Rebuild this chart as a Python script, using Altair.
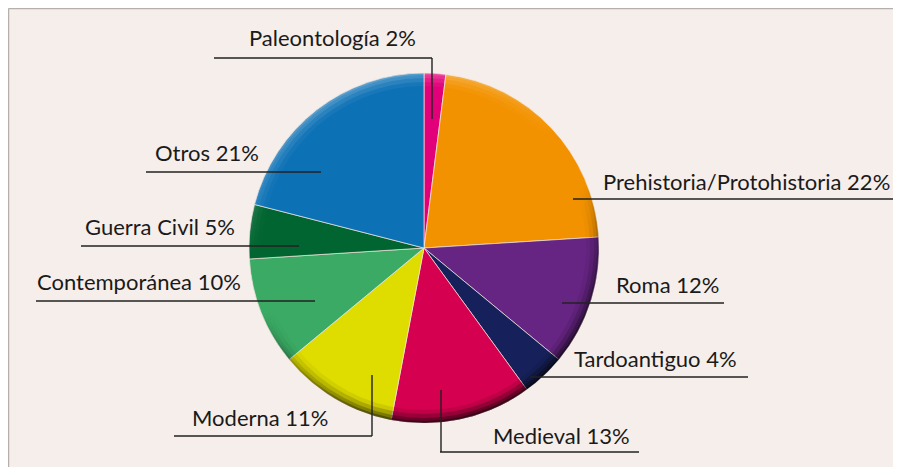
import altair as alt
import pandas as pd

# ---- data ----
categories = ["Paleontología", "Prehistoria/Protohistoria", "Roma", "Tardoantiguo",
              "Medieval", "Moderna", "Contemporánea", "Guerra Civil", "Otros"]
shares = [2, 22, 12, 4, 13, 11, 10, 5, 21]
colors = ["#e2007a", "#f39200", "#662483", "#16215b", "#d5004f",
          "#dfdc00", "#3aaa64", "#006530", "#0c71b5"]

# ---- annotation layout (page pixels) ----
OFF = 8
label_x = [249, 603, 616, 574, 493, 192, 37, 85, 155]
label_y = [46, 190, 293, 367, 444, 426, 290, 235, 161]
line_x1 = [214, 573, 562, 530, 440, 174, 36, 81, 146]
line_x2 = [432, 893, 724, 748, 639, 372, 315, 299, 321]
line_y = [58, 199, 303, 377, 452, 436, 301, 246, 172]
drop_x = [432, 441, 372]
drop_y1 = [58, 390, 375]
drop_y2 = [119, 452, 436]

CX, CY, R = 424 - OFF, 248 - OFF, 175
W, H = 885, 459
FONT = "Lato"

df = pd.DataFrame({"cat": categories, "share": shares, "order": list(range(len(categories)))})
df["label"] = [f"{c} {s}%" for c, s in zip(categories, shares)]

lab = pd.DataFrame({
    "label": df["label"],
    "tx": [v - OFF for v in label_x], "ty": [v - OFF for v in label_y],
    "lx1": [v - OFF for v in line_x1], "lx2": [v - OFF for v in line_x2],
    "ly": [v - OFF for v in line_y],
})
drops = pd.DataFrame({
    "x": [v - OFF for v in drop_x],
    "y1": [v - OFF for v in drop_y1],
    "y2": [v - OFF for v in drop_y2],
})

pie = alt.Chart(df).mark_arc(radius=R, stroke="#f3e6df", strokeWidth=0.7).encode(
    theta=alt.Theta("share:Q", stack=True),
    order=alt.Order("order:Q"),
    color=alt.Color("cat:N", scale=alt.Scale(domain=categories, range=colors), legend=None),
    x=alt.value(CX), y=alt.value(CY),
)

def ring(width, a_dark, a_light):
    grad = {
        "gradient": "linear", "x1": 0.3, "y1": 0, "x2": 0.7, "y2": 1,
        "stops": [
            {"offset": 0, "color": f"rgba(255,255,255,{a_light})"},
            {"offset": 0.35, "color": "rgba(255,255,255,0)"},
            {"offset": 0.5, "color": "rgba(0,0,0,0)"},
            {"offset": 1, "color": f"rgba(0,0,0,{a_dark})"},
        ],
    }
    return alt.Chart(df.head(1)).mark_arc(
        theta=0, theta2=6.2832, radius=R, radius2=R - width, fill=grad
    ).encode(x=alt.value(CX), y=alt.value(CY))

rings = [ring(2, 0.45, 0.15), ring(5, 0.35, 0.12), ring(9, 0.25, 0.1), ring(13, 0.12, 0.06)]

hlines = alt.Chart(lab).mark_rule(color="#222222", strokeWidth=1.4).encode(
    x=alt.X("lx1:Q", scale=None), x2="lx2:Q", y=alt.Y("ly:Q", scale=None)
)
vlines = alt.Chart(drops).mark_rule(color="#222222", strokeWidth=1.4).encode(
    x=alt.X("x:Q", scale=None), y=alt.Y("y1:Q", scale=None), y2="y2:Q"
)
texts = alt.Chart(lab).mark_text(
    align="left", baseline="alphabetic", font=FONT, fontSize=22, color="#1a1a1a"
).encode(
    x=alt.X("tx:Q", scale=None), y=alt.Y("ty:Q", scale=None), text="label:N"
)

frame = pd.DataFrame({"x": [0.5], "y": [0.5], "xe": [W], "ye": [H]})
top_line = alt.Chart(frame).mark_rule(color="#b5b0ae", strokeWidth=1.5).encode(
    x=alt.X("x:Q", scale=None), x2="xe:Q", y=alt.Y("y:Q", scale=None)
)
left_line = alt.Chart(frame).mark_rule(color="#b5b0ae", strokeWidth=1.5).encode(
    x=alt.X("x:Q", scale=None), y=alt.Y("y:Q", scale=None), y2="ye:Q"
)

chart = alt.layer(top_line, left_line, pie, *rings, hlines, vlines, texts).properties(
    width=W, height=H, padding=0, autosize=alt.AutoSizeParams(type="none"),
    background="#f6eeea",
).configure_view(stroke=None)

chart.save("out.html", embed_options={"renderer": "svg", "actions": False})
